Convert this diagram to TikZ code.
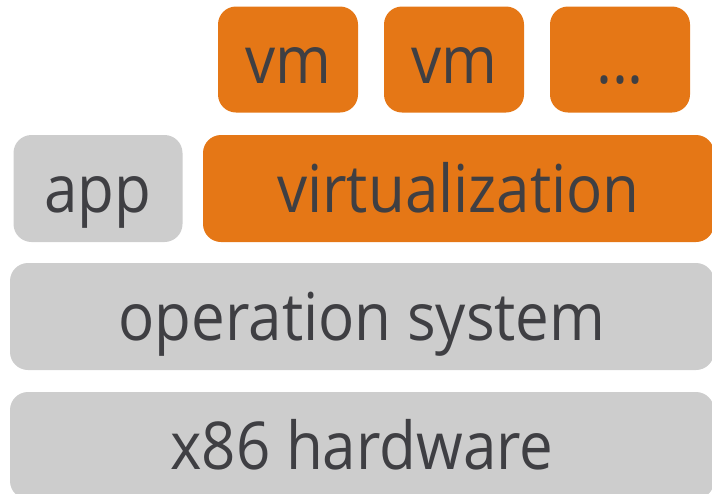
\documentclass[tikz,border=0pt]{standalone}
\usepackage{fontspec}
\setmainfont{Open Sans}[FakeStretch=0.91]
\definecolor{vmorange}{HTML}{E57716}
\definecolor{boxgray}{HTML}{CDCDCD}
\definecolor{textgray}{HTML}{3F3F43}
\begin{document}
\begin{tikzpicture}[x=1pt,y=-1pt]
\tikzstyle{layer} = [rounded corners=18pt, inner sep=0pt, minimum height=107pt, text=textgray, text height=47pt, text depth=0pt, font=\fontsize{66}{66}\selectfont];
\tikzstyle{guest} = [layer, fill=vmorange, minimum width=140pt, minimum height=106pt];

\useasboundingbox (0,0) rectangle (712,493);
\clip (0,0) rectangle (712,493);

\foreach \x/\y in {1/vm,2/vm,3/{...}}
	\node[guest] (vm-\x) at (122+\x*166,59.5) {\y};

\node[layer, fill=boxgray, minimum width=169pt] (app) at (98,188.5) {app};
\node[layer, fill=vmorange, minimum width=511pt] (virt) at (458.5,188.5) {virtualization};
\node[layer, fill=boxgray, minimum width=704pt] (os) at (362,316.5) {operation system};
\node[layer, fill=boxgray, minimum width=704pt] (hw) at (362,445.5) {x86 hardware};
\end{tikzpicture}
\end{document}
